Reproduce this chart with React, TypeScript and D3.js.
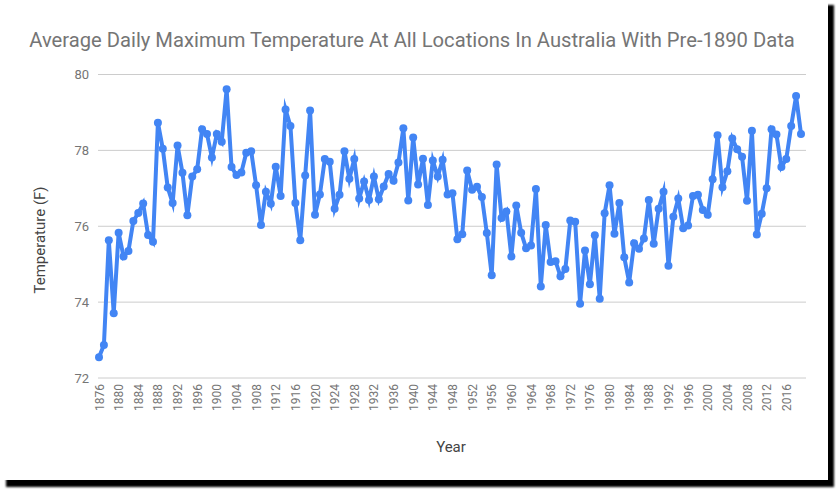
import React from "react";
import * as d3 from "d3";

const years: number[] = d3.range(1876, 2020);
const temps: number[] = [
  72.55, 72.87, 75.63, 73.71, 75.83, 75.2, 75.35, 76.14, 76.35, 76.6,
  75.77, 75.59, 78.73, 78.04, 77.02, 76.61, 78.13, 77.41, 76.29, 77.31,
  77.5, 78.56, 78.43, 77.81, 78.43, 78.23, 79.61, 77.56, 77.35, 77.42,
  77.94, 77.98, 77.08, 76.03, 76.91, 76.59, 77.57, 76.8, 79.08, 78.64,
  76.61, 75.63, 77.34, 79.05, 76.3, 76.84, 77.77, 77.7, 76.46, 76.83,
  77.98, 77.25, 77.77, 76.73, 77.18, 76.69, 77.31, 76.71, 77.05, 77.38,
  77.2, 77.68, 78.58, 76.68, 78.34, 77.1, 77.78, 76.56, 77.73, 77.31,
  77.75, 76.84, 76.87, 75.66, 75.79, 77.47, 76.96, 77.04, 76.77, 75.82,
  74.71, 77.63, 76.22, 76.39, 75.2, 76.55, 75.83, 75.42, 75.49, 76.98,
  74.41, 76.03, 75.06, 75.08, 74.68, 74.87, 76.15, 76.12, 73.96, 75.36,
  74.47, 75.76, 74.09, 76.34, 77.08, 75.8, 76.61, 75.18, 74.52, 75.55,
  75.41, 75.68, 76.69, 75.54, 76.46, 76.91, 74.96, 76.25, 76.73, 75.95,
  76.02, 76.8, 76.83, 76.43, 76.3, 77.24, 78.4, 77.03, 77.45, 78.31,
  78.03, 77.83, 76.67, 78.52, 75.78, 76.33, 77.0, 78.56, 78.42, 77.56,
  77.77, 78.64, 79.43, 78.43,
];
const yTicks: number[] = [72, 74, 76, 78, 80];
const xTicks: number[] = d3.range(1876, 2017, 4);

const title = "Average Daily Maximum Temperature At All Locations In Australia With Pre-1890 Data";

export default function App() {
  const W = 839;
  const H = 491;
  const x = d3.scaleLinear().domain([1876, 2019]).range([99, 801]);
  const y = d3.scaleLinear().domain([72, 80]).range([378, 74.5]);
  const data = years.map((yr, i) => ({ yr, v: temps[i] }));
  const line = d3
    .line<{ yr: number; v: number }>()
    .x((d) => x(d.yr))
    .y((d) => y(d.v));
  const font = "Roboto, 'Noto Sans', sans-serif";

  return (
    <svg
      width={W}
      height={H}
      style={{ position: "absolute", left: 0, top: 0 }}
      fontFamily={font}
    >
      <defs>
        <filter id="sh" x="-5%" y="-5%" width="110%" height="110%">
          <feGaussianBlur stdDeviation="1.2" />
        </filter>
      </defs>
      <rect x={0} y={0} width={W} height={H} fill="#fff" />
      <rect x={6} y={5} width={828} height={482} fill="#000" filter="url(#sh)" />
      <rect x={0} y={0} width={828} height={480} fill="#fff" />
      <text x={412} y={47} textAnchor="middle" fontSize={20.2} fill="#757575">
        {title}
      </text>
      {yTicks.map((t) => (
        <g key={t}>
          <line x1={98} x2={806} y1={y(t)} y2={y(t)} stroke="#cccccc" strokeWidth={1} />
          <text x={89} y={y(t) + 4.5} textAnchor="end" fontSize={13} fill="#757575">
            {t}
          </text>
        </g>
      ))}
      {xTicks.map((t) => (
        <text
          key={t}
          transform={`translate(${x(t) + 4.5},384) rotate(-90)`}
          textAnchor="end"
          fontSize={12}
          fill="#757575"
        >
          {t}
        </text>
      ))}
      <text x={451} y={452} textAnchor="middle" fontSize={15} fill="#444">
        Year
      </text>
      <text
        transform="translate(45,240) rotate(-90)"
        textAnchor="middle"
        fontSize={15}
        fill="#444"
      >
        Temperature (F)
      </text>
      <path
        d={line(data) || ""}
        fill="none"
        stroke="#4285f4"
        strokeWidth={4}
        strokeLinejoin="miter"
        strokeMiterlimit={6}
      />
      {data.map((d) => (
        <circle key={d.yr} cx={x(d.yr)} cy={y(d.v)} r={4} fill="#4285f4" />
      ))}
    </svg>
  );
}
